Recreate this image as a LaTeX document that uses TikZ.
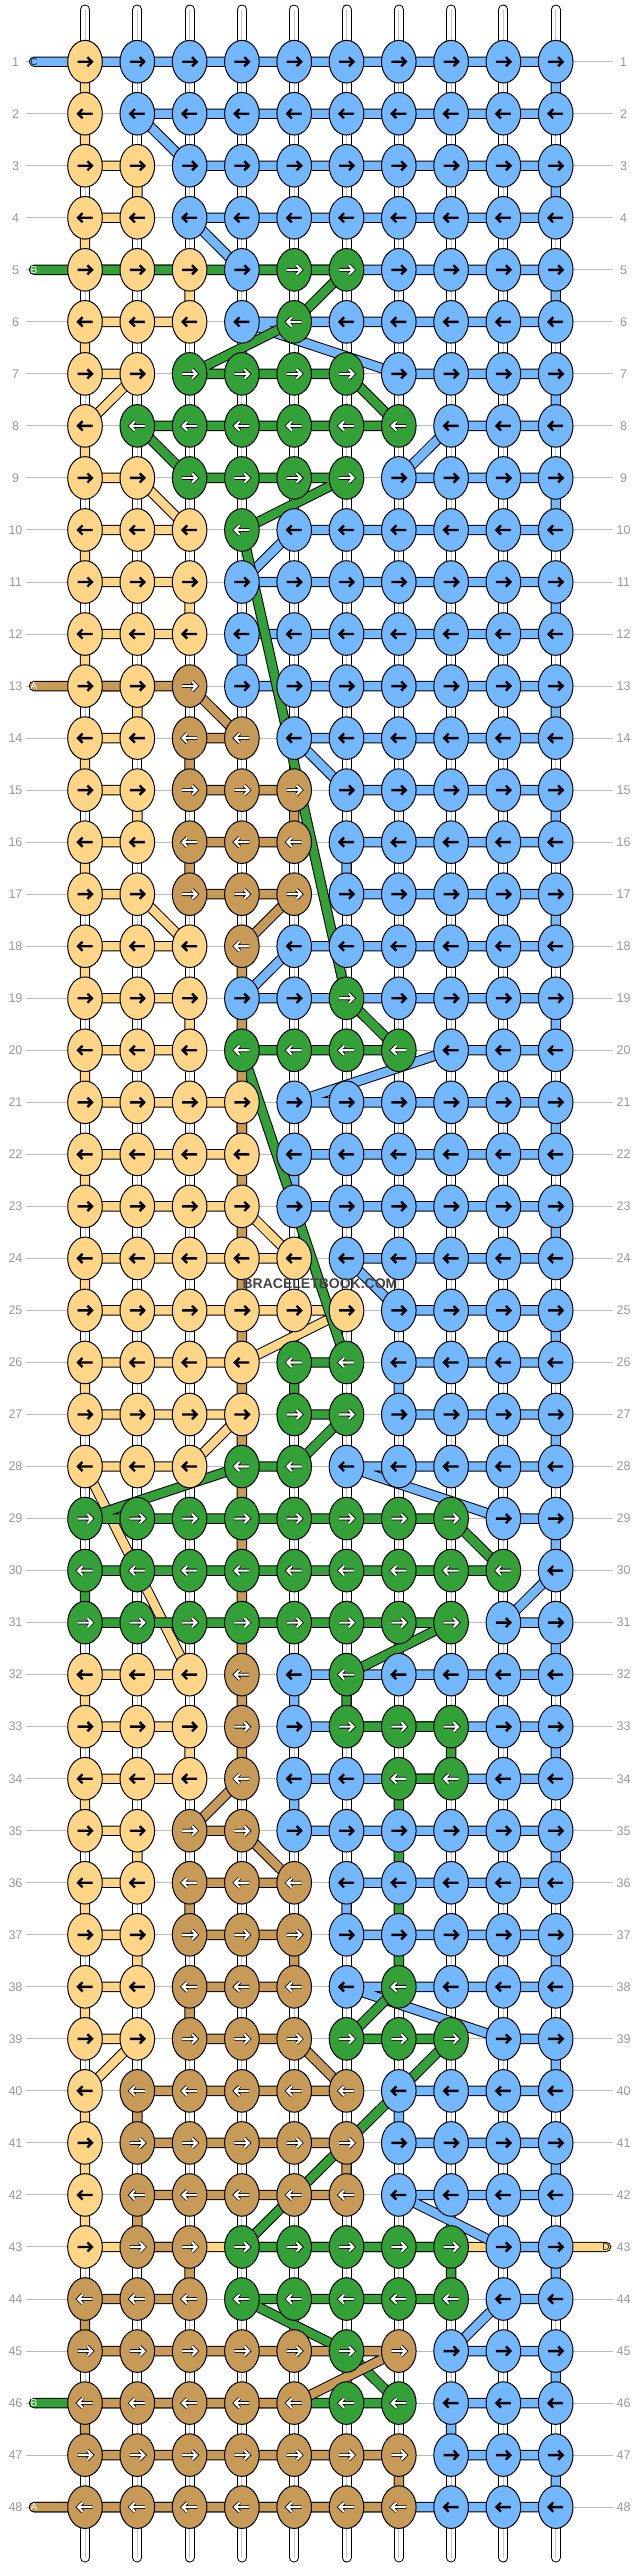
\documentclass[tikz,border=0pt]{standalone}
\usepackage{fontspec}
\setmainfont{Liberation Sans}
\usetikzlibrary{shapes.geometric}
\definecolor{cY}{HTML}{FFD687}
\definecolor{cB}{HTML}{73B8FF}
\definecolor{cG}{HTML}{33A137}
\definecolor{cT}{HTML}{C79A57}
\definecolor{rowgray}{HTML}{BBBBBB}
\definecolor{numgray}{HTML}{999999}
\definecolor{wmgray}{HTML}{444444}
\pgfdeclarelayer{bgfill}
\pgfdeclarelayer{strings}
\pgfdeclarelayer{lines}
\pgfsetlayers{bgfill,strings,lines,main}
\tikzset{
  knot/.style={ellipse, draw=black, line width=1pt, minimum width=34.6pt, minimum height=42.6pt, inner sep=0pt},
  arrlight/.style={draw=black, line width=2.4pt},
  arrdark/.style={draw=white, line width=2.1pt, preaction={draw=black, line width=3.7pt}},
  arrY/.style={arrlight}, arrB/.style={arrlight}, arrG/.style={arrdark}, arrT/.style={arrdark},
  strand/.style={line width=8.4pt, line join=round, line cap=round,
    preaction={draw=black, line width=10.4pt, line join=round, line cap=round}},
  strY/.style={strand, draw=cY}, strB/.style={strand, draw=cB},
  strG/.style={strand, draw=cG}, strT/.style={strand, draw=cT},
  num/.style={text=numgray, font=\fontsize{12.5}{12.5}\selectfont, inner sep=0pt},
  mk/.style={font=\fontsize{10}{10}\selectfont, inner sep=0pt},
}
\begin{document}
\begin{tikzpicture}[x=1pt,y=-1pt]
\useasboundingbox (0,0) rectangle (636,2568);
\begin{pgfonlayer}{bgfill}
\fill[white] (0,0) rectangle (636,2568);
\end{pgfonlayer}
% knots
\foreach \r/\cols in {
1/{Y,B,B,B,B,B,B,B,B,B},
2/{Y,B,B,B,B,B,B,B,B,B},
3/{Y,Y,B,B,B,B,B,B,B,B},
4/{Y,Y,B,B,B,B,B,B,B,B},
5/{Y,Y,Y,B,G,G,B,B,B,B},
6/{Y,Y,Y,B,G,B,B,B,B,B},
7/{Y,Y,G,G,G,G,B,B,B,B},
8/{Y,G,G,G,G,G,G,B,B,B},
9/{Y,Y,G,G,G,G,B,B,B,B},
10/{Y,Y,Y,G,B,B,B,B,B,B},
11/{Y,Y,Y,B,B,B,B,B,B,B},
12/{Y,Y,Y,B,B,B,B,B,B,B},
13/{Y,Y,T,B,B,B,B,B,B,B},
14/{Y,Y,T,T,B,B,B,B,B,B},
15/{Y,Y,T,T,T,B,B,B,B,B},
16/{Y,Y,T,T,T,B,B,B,B,B},
17/{Y,Y,T,T,T,B,B,B,B,B},
18/{Y,Y,Y,T,B,B,B,B,B,B},
19/{Y,Y,Y,B,B,G,B,B,B,B},
20/{Y,Y,Y,G,G,G,G,B,B,B},
21/{Y,Y,Y,Y,B,B,B,B,B,B},
22/{Y,Y,Y,Y,B,B,B,B,B,B},
23/{Y,Y,Y,Y,B,B,B,B,B,B},
24/{Y,Y,Y,Y,Y,B,B,B,B,B},
25/{Y,Y,Y,Y,Y,Y,B,B,B,B},
26/{Y,Y,Y,Y,G,G,B,B,B,B},
27/{Y,Y,Y,Y,G,G,B,B,B,B},
28/{Y,Y,Y,G,G,B,B,B,B,B},
29/{G,G,G,G,G,G,G,G,B,B},
30/{G,G,G,G,G,G,G,G,G,B},
31/{G,G,G,G,G,G,G,G,B,B},
32/{Y,Y,Y,T,B,G,B,B,B,B},
33/{Y,Y,Y,T,B,G,G,G,B,B},
34/{Y,Y,Y,T,B,B,G,G,B,B},
35/{Y,Y,T,T,B,B,B,B,B,B},
36/{Y,Y,T,T,T,B,B,B,B,B},
37/{Y,Y,T,T,T,B,B,B,B,B},
38/{Y,Y,T,T,T,B,G,B,B,B},
39/{Y,Y,T,T,T,G,G,G,B,B},
40/{Y,T,T,T,T,T,B,B,B,B},
41/{Y,T,T,T,T,T,B,B,B,B},
42/{Y,T,T,T,T,T,B,B,B,B},
43/{Y,T,T,G,G,G,G,G,B,B},
44/{T,T,T,G,G,G,G,G,B,B},
45/{T,T,T,T,T,G,T,B,B,B},
46/{T,T,T,T,T,G,G,B,B,B},
47/{T,T,T,T,T,T,T,B,B,B},
48/{T,T,T,T,T,T,T,B,B,B}} {
  \pgfmathsetmacro\dir{1-2*mod(\r+1,2)}
  \pgfmathsetmacro\yy{61.7+(\r-1)*52.03}
  \foreach \k [count=\c] in \cols {
    \pgfmathsetmacro\xx{85+(\c-1)*52.3}
    \node[knot, fill=c\k] (k-\r-\c) at (\xx,\yy) {};
    \draw[arr\k, shift={(k-\r-\c.center)}, xscale=\dir]
      (-7.5pt,0pt) -- (6.3pt,0pt) (2.4pt,-4.6pt) -- (7pt,0pt) -- (2.4pt,4.6pt);
  }
}
% row labels and guide lines
\foreach \r in {1,...,48} {
  \pgfmathsetmacro\yy{61.7+(\r-1)*52.03}
  \begin{pgfonlayer}{strings}
    \draw[rowgray, line width=1pt] (26,\yy) -- (613,\yy);
  \end{pgfonlayer}
  \node[num] (ln-\r) at (15.5,\yy) {\r};
  \node[num] (rn-\r) at (623.5,\yy) {\r};
}
% base strings
\begin{pgfonlayer}{strings}
\foreach \c in {1,...,10} {
  \pgfmathsetmacro\xx{85+(\c-1)*52.3}
  \draw[black, line width=10pt, line cap=round] (\xx,9.5) -- (\xx,2557.5);
  \draw[white, line width=8pt, line cap=round] (\xx,9.5) -- (\xx,2557.5);
  \draw[gray!45, line width=0.9pt] (\xx,9.5) -- (\xx,2557.5);
}
\end{pgfonlayer}
% string markers
\node[mk, text=black!85] (mC) at (34,61.7) {C};
\node[mk, text=white] (mB) at (34,269.82) {B};
\node[mk, text=white] (mA) at (34,686.06) {A};
\node[mk, text=black!85] (mD) at (606,2246.96) {D};
\node[mk, text=white] (mB2) at (34,2403.05) {B};
\node[mk, text=white] (mA2) at (34,2507.11) {A};
% working strings
\begin{pgfonlayer}{lines}
\draw[strY] (k-1-1.center) -- (k-2-1.center) -- (k-3-1.center) -- (k-3-2.center) -- (k-4-2.center) -- (k-4-1.center) -- (k-5-1.center) -- (k-5-3.center) -- (k-6-3.center) -- (k-6-1.center) -- (k-7-1.center) -- (k-7-2.center) -- (k-8-1.center) -- (k-9-1.center) -- (k-9-2.center) -- (k-10-3.center) -- (k-10-1.center) -- (k-11-1.center) -- (k-11-3.center) -- (k-12-3.center) -- (k-12-1.center) -- (k-13-1.center) -- (k-13-2.center) -- (k-14-2.center) -- (k-14-1.center) -- (k-15-1.center) -- (k-15-2.center) -- (k-16-2.center) -- (k-16-1.center) -- (k-17-1.center) -- (k-17-2.center) -- (k-18-3.center) -- (k-18-1.center) -- (k-19-1.center) -- (k-19-3.center) -- (k-20-3.center) -- (k-20-1.center) -- (k-21-1.center) -- (k-21-4.center) -- (k-22-4.center) -- (k-22-1.center) -- (k-23-1.center) -- (k-23-4.center) -- (k-24-5.center) -- (k-24-1.center) -- (k-25-1.center) -- (k-25-6.center) -- (k-26-4.center) -- (k-26-1.center) -- (k-27-1.center) -- (k-27-4.center) -- (k-28-3.center) -- (k-28-1.center) -- (k-32-3.center) -- (k-32-1.center) -- (k-33-1.center) -- (k-33-3.center) -- (k-34-3.center) -- (k-34-1.center) -- (k-35-1.center) -- (k-35-2.center) -- (k-36-2.center) -- (k-36-1.center) -- (k-37-1.center) -- (k-37-2.center) -- (k-38-2.center) -- (k-38-1.center) -- (k-39-1.center) -- (k-39-2.center) -- (k-40-1.center) -- (k-43-1.center) -- (mD.center);
\draw[strB] (mC.center) -- (k-1-10.center) -- (k-2-10.center) -- (k-2-2.center) -- (k-3-3.center) -- (k-3-10.center) -- (k-4-10.center) -- (k-4-3.center) -- (k-5-4.center) -- (k-5-10.center) -- (k-6-10.center) -- (k-6-4.center) -- (k-7-7.center) -- (k-7-10.center) -- (k-8-10.center) -- (k-8-8.center) -- (k-9-7.center) -- (k-9-10.center) -- (k-10-10.center) -- (k-10-5.center) -- (k-11-4.center) -- (k-11-10.center) -- (k-12-10.center) -- (k-12-4.center) -- (k-13-4.center) -- (k-13-10.center) -- (k-14-10.center) -- (k-14-5.center) -- (k-15-6.center) -- (k-15-10.center) -- (k-16-10.center) -- (k-16-6.center) -- (k-17-6.center) -- (k-17-10.center) -- (k-18-10.center) -- (k-18-5.center) -- (k-19-4.center) -- (k-19-10.center) -- (k-20-10.center) -- (k-20-8.center) -- (k-21-5.center) -- (k-21-10.center) -- (k-22-10.center) -- (k-22-5.center) -- (k-23-5.center) -- (k-23-10.center) -- (k-24-10.center) -- (k-24-6.center) -- (k-25-7.center) -- (k-25-10.center) -- (k-26-10.center) -- (k-26-7.center) -- (k-27-7.center) -- (k-27-10.center) -- (k-28-10.center) -- (k-28-6.center) -- (k-29-9.center) -- (k-29-10.center) -- (k-30-10.center) -- (k-31-9.center) -- (k-31-10.center) -- (k-32-10.center) -- (k-32-5.center) -- (k-33-5.center) -- (k-33-10.center) -- (k-34-10.center) -- (k-34-5.center) -- (k-35-5.center) -- (k-35-10.center) -- (k-36-10.center) -- (k-36-6.center) -- (k-37-6.center) -- (k-37-10.center) -- (k-38-10.center) -- (k-38-6.center) -- (k-39-9.center) -- (k-39-10.center) -- (k-40-10.center) -- (k-40-7.center) -- (k-41-7.center) -- (k-41-10.center) -- (k-42-10.center) -- (k-42-7.center) -- (k-43-9.center) -- (k-43-10.center) -- (k-44-10.center) -- (k-44-9.center) -- (k-45-8.center) -- (k-45-10.center) -- (k-46-10.center) -- (k-46-8.center) -- (k-47-8.center) -- (k-47-10.center) -- (k-48-10.center) -- (mA2.center);
\draw[strG] (mB.center) -- (k-5-6.center) -- (k-6-5.center) -- (k-7-3.center) -- (k-7-6.center) -- (k-8-7.center) -- (k-8-2.center) -- (k-9-3.center) -- (k-9-6.center) -- (k-10-4.center) -- (k-19-6.center) -- (k-20-7.center) -- (k-20-4.center) -- (k-26-6.center) -- (k-26-5.center) -- (k-27-5.center) -- (k-27-6.center) -- (k-28-5.center) -- (k-28-4.center) -- (k-29-1.center) -- (k-29-8.center) -- (k-30-9.center) -- (k-30-1.center) -- (k-31-1.center) -- (k-31-8.center) -- (k-32-6.center) -- (k-33-6.center) -- (k-33-8.center) -- (k-34-8.center) -- (k-34-7.center) -- (k-38-7.center) -- (k-39-6.center) -- (k-39-8.center) -- (k-43-4.center) -- (k-43-8.center) -- (k-44-8.center) -- (k-44-4.center) -- (k-45-6.center) -- (k-46-7.center) -- (mB2.center);
\draw[strT] (mA.center) -- (k-13-3.center) -- (k-14-4.center) -- (k-14-3.center) -- (k-15-3.center) -- (k-15-5.center) -- (k-16-5.center) -- (k-16-3.center) -- (k-17-3.center) -- (k-17-5.center) -- (k-18-4.center) -- (k-34-4.center) -- (k-35-3.center) -- (k-35-4.center) -- (k-36-5.center) -- (k-36-3.center) -- (k-37-3.center) -- (k-37-5.center) -- (k-38-5.center) -- (k-38-3.center) -- (k-39-3.center) -- (k-39-5.center) -- (k-40-6.center) -- (k-40-2.center) -- (k-41-2.center) -- (k-41-6.center) -- (k-42-6.center) -- (k-42-2.center) -- (k-43-2.center) -- (k-43-3.center) -- (k-44-3.center) -- (k-44-1.center) -- (k-45-1.center) -- (k-45-7.center) -- (k-46-5.center) -- (k-46-1.center) -- (k-47-1.center) -- (k-47-7.center) -- (k-48-7.center) -- (mA2.center);
\end{pgfonlayer}
% watermark
\node[text=wmgray, font=\bfseries\fontsize{14}{14}\selectfont, inner sep=0pt] (wm) at (320,1284) {BRACELETBOOK.COM};
\end{tikzpicture}
\end{document}
